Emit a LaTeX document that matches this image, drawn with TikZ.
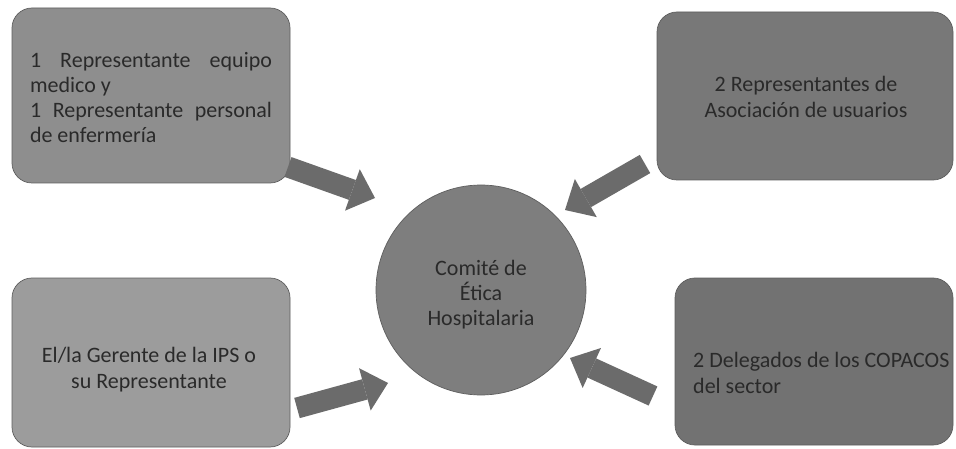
\documentclass[tikz,border=0pt]{standalone}
\usepackage{fontspec}
\setmainfont{Carlito}
\usetikzlibrary{arrows.meta}
\definecolor{txtc}{HTML}{2A2A2A}
\definecolor{arrc}{HTML}{6B6B6B}
\definecolor{tlc}{HTML}{8E8E8E}
\definecolor{trc}{HTML}{787878}
\definecolor{blc}{HTML}{9C9C9C}
\definecolor{brc}{HTML}{727272}
\definecolor{circc}{HTML}{7E7E7E}
\definecolor{edgec}{HTML}{5E5E5E}
\begin{document}
\begin{tikzpicture}[x=1pt,y=-1pt,
  box/.style={rectangle, rounded corners=20pt, draw=edgec, line width=0.7pt, inner sep=0pt},
  txt/.style={inner sep=0pt, text=txtc, font=\fontsize{22}{25.3}\selectfont, align=center},
  barrow/.style={draw=arrc, line width=21pt,
    -{Triangle[length=24pt,width=44pt,line width=0pt,fill=arrc]}}]
\useasboundingbox (0,0) rectangle (956,449);
\fill[white] (0,0) rectangle (956,449);

% boxes
\node[box, fill=tlc, minimum width=278pt, minimum height=175pt] (tl) at (151,95.5) {};
\node[box, fill=trc, minimum width=296pt, minimum height=168pt] (tr) at (805,96) {};
\node[box, fill=blc, minimum width=278pt, minimum height=169pt] (bl) at (151,362.5) {};
\node[box, fill=brc, minimum width=278pt, minimum height=167pt] (br) at (814,361.5) {};
\node[circle, draw=edgec, line width=0.7pt, fill=circc, minimum size=210pt, inner sep=0pt] (c) at (481,290) {};

% texts
\node[txt, text width=242pt, align=justify] (tltext) at (151,97.5)
  {1\hfill Representante\hfill equipo\\medico y\\1\hfill Representante\hfill personal\\de enfermería};
\node[txt] (trtext) at (806,97) {2 Representantes de\\Asociación de usuarios};
\node[txt] (bltext) at (149,369.5) {El/la Gerente de la IPS o\\su Representante};
\node[txt, anchor=west, align=left] (brtext) at (693,373) {2 Delegados de los COPACOS\\del sector};
\node[txt] (ctext) at (481,294.5) {Comité de\\Ética\\Hospitalaria};

% arrows
\coordinate (a1s) at (288,167); \coordinate (a1e) at (375,198);
\coordinate (a2s) at (645,164); \coordinate (a2e) at (565,210);
\coordinate (a3s) at (297,408); \coordinate (a3e) at (388,383);
\coordinate (a4s) at (653,396); \coordinate (a4e) at (570,358);
\draw[barrow] (a1s) -- (a1e);
\draw[barrow] (a2s) -- (a2e);
\draw[barrow] (a3s) -- (a3e);
\draw[barrow] (a4s) -- (a4e);
\end{tikzpicture}
\end{document}
